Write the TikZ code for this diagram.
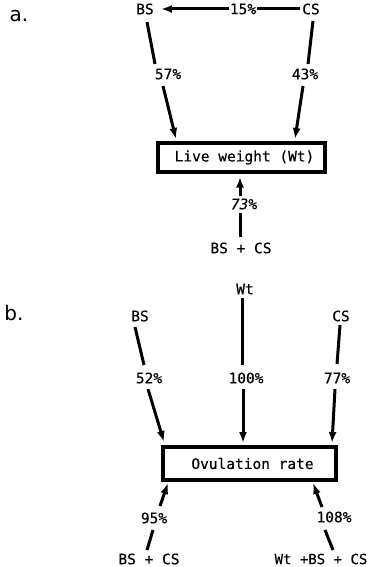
\documentclass[tikz,border=0pt]{standalone}
\usepackage{fontspec}
\newfontfamily\tfont[BoldFont={DejaVu Sans Mono},BoldFeatures={FakeBold=0.35},BoldItalicFont={DejaVu Sans Mono Oblique},BoldItalicFeatures={FakeBold=0.35}]{DejaVu Sans Mono}
\newfontfamily\handfont{DejaVu Sans}
\usetikzlibrary{arrows.meta}
\begin{document}
\begin{tikzpicture}[x=1pt,y=-1pt,
  txt/.style={font=\tfont\bfseries\fontsize{14.5}{16}\selectfont, inner sep=1pt},
  hand/.style={font=\handfont\fontsize{20}{22}\selectfont, inner sep=0pt},
  ln/.style={line width=3pt},
  arr/.style={line width=3pt,-{Latex[length=11pt,width=8pt]}},
  boxst/.style={draw,line width=3.2pt,inner sep=0pt,font=\tfont\bfseries\fontsize{14.5}{16}\selectfont}]
\useasboundingbox (0,0) rectangle (369,567);
% ---------- part a ----------
\node[hand] (la) at (19,16) {a.};
\node[txt] (BSa) at (145,9) {BS};
\node[txt] (CSa) at (311,9) {CS};
\node[txt] (p15) at (243,9) {15\%};
\node[txt] (p57) at (168,74) {57\%};
\node[txt] (p43) at (305,74) {43\%};
\node[boxst,minimum width=167pt,minimum height=29pt] (boxa) at (241.5,157.5) {\hspace*{6pt}Live weight (Wt)};
\node[txt,font=\tfont\bfseries\itshape\fontsize{14.5}{16}\selectfont] (p73) at (244,204) {73\%};
\node[txt] (BSCSa) at (241,248) {BS + CS};
% connectors a
\coordinate (a1s) at (147,22);
\coordinate (a1m) at (155,64);
\coordinate (a2s) at (163,86);
\coordinate (a2e) at (176,139);
\coordinate (c1s) at (313,21);
\coordinate (c1m) at (308,64);
\coordinate (c2s) at (303,86);
\coordinate (c2e) at (295,139);
\draw[arr] (p15.west) -- ([xshift=6pt]BSa.east);
\draw[ln] (p15.east) -- ([xshift=-1pt]CSa.west);
\draw[ln] (a1s) -- (a1m);
\draw[arr] (a2s) -- (a2e);
\draw[ln] (c1s) -- (c1m);
\draw[arr] (c2s) -- (c2e);
\draw[arr] ([xshift=-4pt,yshift=1pt]p73.north) -- ([xshift=-1.5pt,yshift=-3pt]boxa.south);
\draw[ln] ([xshift=-1pt,yshift=4pt]BSCSa.north) -- ([xshift=-4pt,yshift=-2pt]p73.south);
% ---------- part b ----------
\node[hand] (lb) at (14,313) {b.};
\node[txt] (Wtb) at (245,289) {Wt};
\node[txt] (BSb) at (140,316) {BS};
\node[txt] (CSb) at (341,316) {CS};
\node[txt] (p52) at (149,378) {52\%};
\node[txt] (p100) at (246,378) {100\%};
\node[txt] (p77) at (337,378) {77\%};
\node[boxst,minimum width=173pt,minimum height=33pt] (boxb) at (249.5,463.5) {\hspace*{6pt}Ovulation rate};
\node[txt] (p95) at (154,518) {95\%};
\node[txt] (p108) at (334,517) {108\%};
\node[txt] (BSCSb) at (149,559) {BS + CS};
\node[txt,font=\tfont\bfseries\fontsize{14}{16}\selectfont] (WBC) at (321,559) {Wt +BS + CS};
% connectors b
\coordinate (d1s) at (135,327);
\coordinate (d1m) at (144,365);
\coordinate (d2s) at (148,389);
\coordinate (d2e) at (164,442);
\coordinate (w1s) at (242,298);
\coordinate (w1m) at (242,365);
\coordinate (w2s) at (243,389);
\coordinate (w2e) at (243,443);
\coordinate (e1s) at (340,325);
\coordinate (e1m) at (337,364);
\coordinate (e2s) at (335,389);
\coordinate (e2e) at (332,443);
\coordinate (f1s) at (147,550);
\coordinate (f1m) at (153,530);
\coordinate (f2s) at (160,506);
\coordinate (f2e) at (168,483);
\coordinate (g1s) at (333,550);
\coordinate (g1m) at (325,530);
\coordinate (g2s) at (322,507);
\coordinate (g2e) at (313,483);
\draw[ln] (d1s) -- (d1m);
\draw[arr] (d2s) -- (d2e);
\draw[ln] (w1s) -- (w1m);
\draw[arr] (w2s) -- (w2e);
\draw[ln] (e1s) -- (e1m);
\draw[arr] (e2s) -- (e2e);
\draw[ln] (f1s) -- (f1m);
\draw[arr] (f2s) -- (f2e);
\draw[ln] (g1s) -- (g1m);
\draw[arr] (g2s) -- (g2e);
\end{tikzpicture}
\end{document}
